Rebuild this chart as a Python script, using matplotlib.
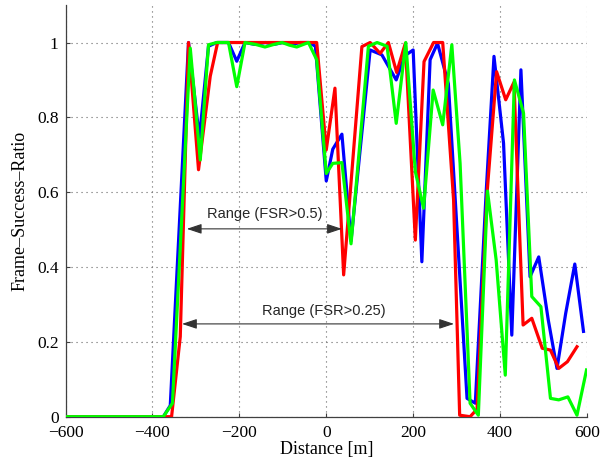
import numpy as np
import matplotlib
matplotlib.use("Agg")
import matplotlib.pyplot as plt

# values (distance [m], frame success ratio)
blue_x = [-600, -375, -359, -317, -292, -271, -252, -225, -206, -187, -165, -140, -120, -100,
          -80, -60, -40, -25, 0, 15, 36, 57, 101, 128, 161, 181, 200, 220, 239, 256, 281,
          324, 343, 368, 386, 408, 427, 448, 469, 489, 511, 531, 551, 572, 592]
blue_y = [0, 0, 0.03, 1.0, 0.745, 0.99, 1.0, 1.0, 0.95, 1.0, 0.995, 1.0, 0.995, 1.0,
          0.995, 1.0, 1.0, 0.99, 0.63, 0.715, 0.755, 0.47, 0.98, 0.967, 0.9, 0.965, 0.98, 0.414,
          0.954, 0.998, 0.89, 0.049, 0.036, 0.6, 0.963, 0.731, 0.218, 0.927, 0.374, 0.427, 0.258,
          0.129, 0.276, 0.408, 0.228]

red_x = [-600, -356, -336, -317, -294, -267, -250, -22, 0, 20, 40, 82, 101, 124, 143, 162,
         182, 205, 225, 247, 268, 293, 307, 331, 347, 370, 392, 413, 432, 442, 453, 473,
         497, 516, 535, 555, 577]
red_y = [0, 0, 0.214, 1.0, 0.66, 0.91, 1.0, 1.0, 0.713, 0.878, 0.379, 0.989, 1.0, 0.971, 1.0, 0.92,
         0.998, 0.472, 0.949, 1.0, 1.0, 0.58, 0.004, 0, 0.02, 0.597, 0.922, 0.847, 0.894, 0.58,
         0.245, 0.263, 0.183, 0.178, 0.129, 0.147, 0.187]

green_x = [-600, -375, -354, -313, -290, -271, -252, -225, -206, -187, -163, -141, -120, -102,
           -85, -68, -41, -22, 0, 15, 36, 57, 97, 117, 140, 161, 183, 205, 224, 246, 268, 289,
           308, 331, 350, 371, 391, 412, 433, 454, 473, 494, 516, 535, 556, 577, 599]
green_y = [0, 0, 0.036, 0.985, 0.686, 0.994, 1.0, 1.0, 0.882, 1.0, 0.995, 0.988, 0.995, 1.0,
           0.993, 0.988, 1.0, 0.954, 0.65, 0.677, 0.679, 0.462, 0.99, 1.0, 0.99, 0.784, 1.0, 0.655,
           0.557, 0.873, 0.78, 0.994, 0.677, 0.036, 0.004, 0.603, 0.419, 0.111, 0.9, 0.811,
           0.321, 0.294, 0.049, 0.045, 0.053, 0.004, 0.125]

x_ticks = [-600, -400, -200, 0, 200, 400, 600]
x_labels = ["\u2212600", "\u2212400", "\u2212200", "0", "200", "400", "600"]
y_ticks = [0, 0.2, 0.4, 0.6, 0.8, 1.0]
y_labels = ["0", "0.2", "0.4", "0.6", "0.8", "1"]

serif = ["Liberation Serif", "DejaVu Serif"]
sans = ["Liberation Sans", "DejaVu Sans"]

fig = plt.figure(figsize=(6.07, 4.63), dpi=100)
ax = fig.add_axes([0.108, 0.1, 0.859, 0.889])

lw = 2.3
ax.plot(blue_x, blue_y, color="#0000ff", lw=lw, zorder=3)
ax.plot(red_x, red_y, color="#ff0000", lw=lw, zorder=4)
ax.plot(green_x, green_y, color="#00ff00", lw=lw, zorder=5)

ax.set_xlim(-600, 600)
ax.set_ylim(0, 1.1)
ax.set_xticks(x_ticks)
ax.set_xticklabels(x_labels, family=serif, fontsize=12.5)
ax.set_yticks(y_ticks)
ax.set_yticklabels(y_labels, family=serif, fontsize=12.5)
ax.tick_params(direction="in", length=3, width=0.8, color="0.25")
ax.tick_params(axis="x", pad=6)
ax.tick_params(axis="y", pad=5)

ax.grid(True, color="0.4", linestyle=(0, (1, 3.5)), linewidth=0.8)
ax.spines["top"].set_visible(False)
ax.spines["right"].set_visible(False)
for side in ("left", "bottom"):
    ax.spines[side].set_linewidth(0.9)
    ax.spines[side].set_color("0.25")
ax.set_axisbelow(True)

ax.set_xlabel("Distance [m]", family=serif, fontsize=13, labelpad=0)
ax.set_ylabel("Frame\u2013Success\u2013Ratio", family=serif, fontsize=13, labelpad=6)

# range annotations
arrow = dict(arrowstyle="<|-|>,head_length=0.9,head_width=0.3", color="0.2", lw=0.8,
             shrinkA=0, shrinkB=0)
ax.annotate("", xy=(-321, 0.502), xytext=(36, 0.502), arrowprops=arrow, zorder=6)
ax.text(-141, 0.542, "Range (FSR>0.5)", ha="center", va="center", family=sans,
        fontsize=10.5, color="0.15", zorder=6)
ax.annotate("", xy=(-332, 0.248), xytext=(294, 0.248), arrowprops=arrow, zorder=6)
ax.text(-6, 0.283, "Range (FSR>0.25)", ha="center", va="center", family=sans,
        fontsize=10.5, color="0.15", zorder=6)

fig.savefig("out.png", dpi=100)
